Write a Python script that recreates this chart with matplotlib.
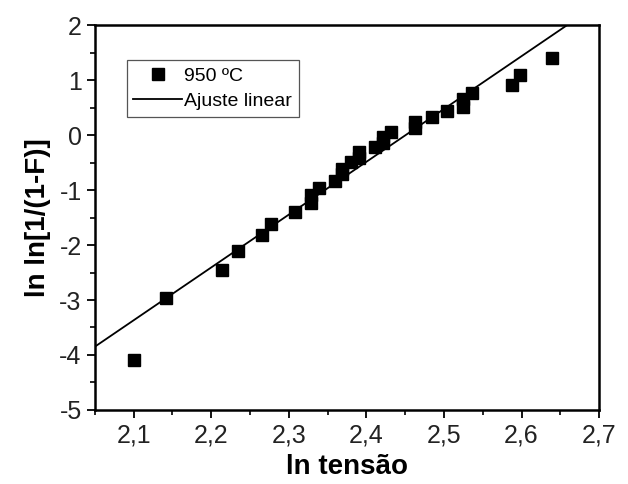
import matplotlib
matplotlib.use("Agg")
import matplotlib.pyplot as plt
import numpy as np
from matplotlib.ticker import MultipleLocator

# data
ln_tensao = [2.101, 2.142, 2.214, 2.235, 2.266, 2.277, 2.308, 2.329, 2.329, 2.339,
             2.360, 2.369, 2.369, 2.380, 2.391, 2.391, 2.411, 2.421, 2.421, 2.432,
             2.463, 2.463, 2.484, 2.504, 2.525, 2.525, 2.536, 2.588, 2.598, 2.639]
ln_ln_f = [-4.09, -2.97, -2.45, -2.10, -1.81, -1.61, -1.39, -1.24, -1.09, -0.97,
           -0.84, -0.71, -0.61, -0.49, -0.42, -0.30, -0.22, -0.14, -0.04, 0.05,
           0.13, 0.24, 0.33, 0.43, 0.52, 0.66, 0.77, 0.91, 1.10, 1.41]

# linear fit as drawn in the figure
fit_slope = 9.61
fit_intercept = -23.55

x_ticks = [2.1, 2.2, 2.3, 2.4, 2.5, 2.6, 2.7]
x_ticklabels = ["2,1", "2,2", "2,3", "2,4", "2,5", "2,6", "2,7"]
y_ticks = [-5, -4, -3, -2, -1, 0, 1, 2]

plt.rcParams["font.family"] = ["Liberation Sans", "DejaVu Sans"]
plt.rcParams["axes.unicode_minus"] = False

fig = plt.figure(figsize=(6.28, 4.84), dpi=100)
ax = fig.add_axes([0.151, 0.153, 0.803, 0.795])

ax.plot(ln_tensao, ln_ln_f, linestyle="none", marker="s", markersize=8.5,
        color="black", label="950 ºC")

xfit = np.array([2.05, 2.7])
ax.plot(xfit, fit_slope * xfit + fit_intercept, color="black", linewidth=1.3,
        label="Ajuste linear")

ax.set_xlim(2.05, 2.7)
ax.set_ylim(-5, 2)
ax.set_xticks(x_ticks)
ax.set_xticklabels(x_ticklabels)
ax.set_yticks(y_ticks)
ax.xaxis.set_minor_locator(MultipleLocator(0.05))
ax.yaxis.set_minor_locator(MultipleLocator(0.5))

ax.tick_params(which="major", direction="out", length=6, width=1.3,
               labelsize=18, labelcolor="#222222", top=False, right=False)
ax.tick_params(which="minor", direction="out", length=3.5, width=1.2,
               top=False, right=False)
for s in ax.spines.values():
    s.set_linewidth(1.8)

ax.set_xlabel("ln tensão", fontsize=20, fontweight="bold", labelpad=5)
ax.set_ylabel("ln ln[1/(1-F)]", fontsize=20, fontweight="bold", labelpad=6)

leg = ax.legend(loc="upper left", bbox_to_anchor=(0.063, 0.909), borderaxespad=0,
                fontsize=14, handlelength=2.5, handletextpad=0.1,
                fancybox=False, framealpha=1, borderpad=0.35, labelspacing=0.4)
leg.get_frame().set_edgecolor("#555555")
leg.get_frame().set_linewidth(0.9)

fig.savefig("out.png", dpi=100)
